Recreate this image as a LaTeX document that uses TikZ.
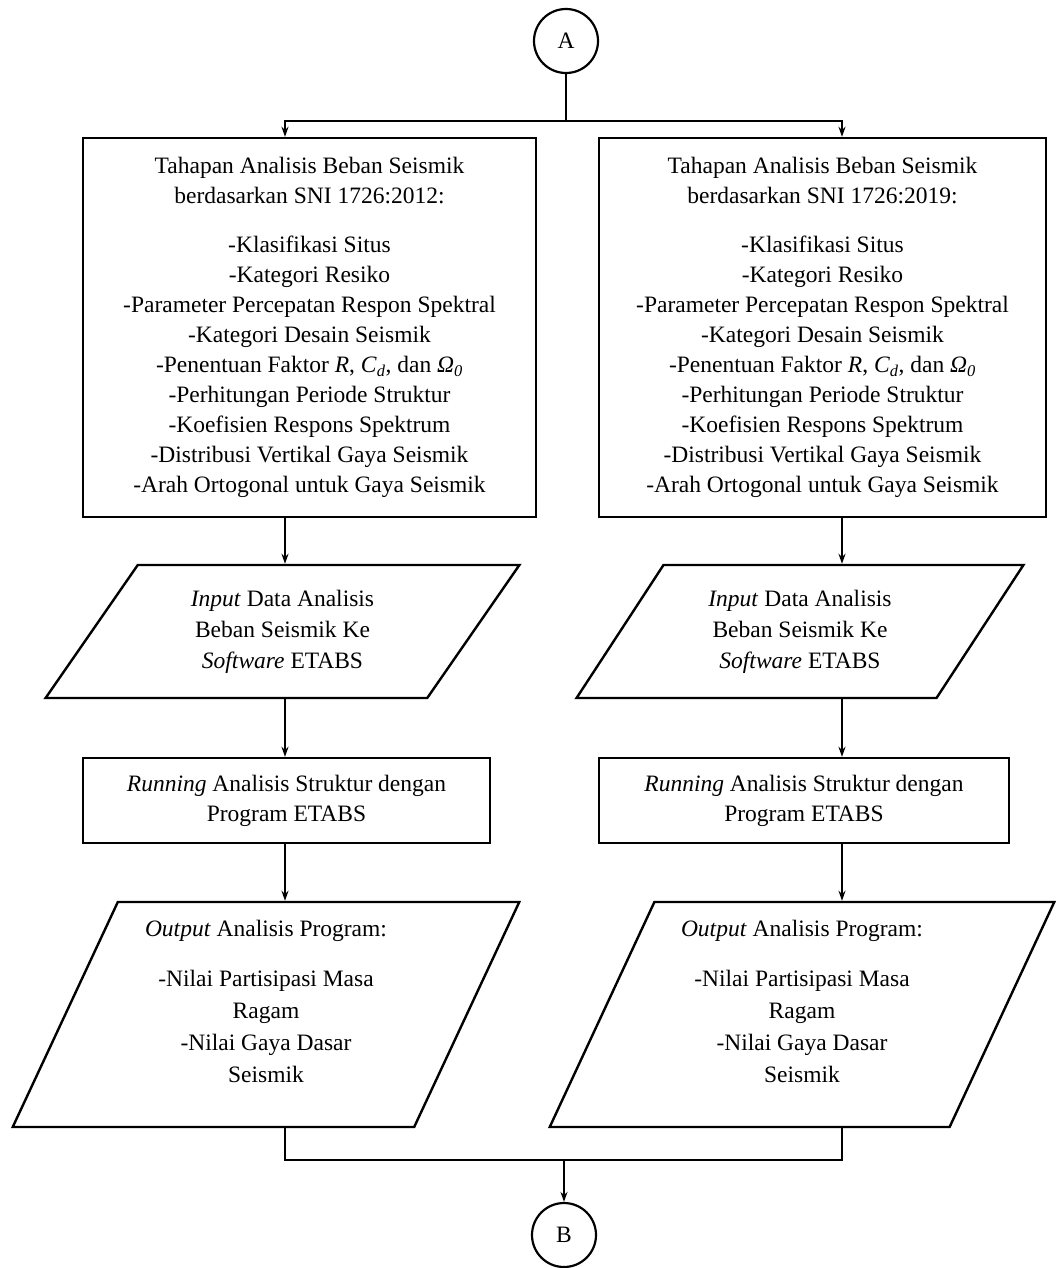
\documentclass[tikz,border=0pt]{standalone}
\usepackage{fontspec}
\setmainfont{Liberation Serif}
\usetikzlibrary{shapes.geometric,arrows.meta}

\begin{document}
\begin{tikzpicture}[x=1pt,y=-1pt,>={Stealth[length=10pt,width=7pt]},
  box/.style={draw,line width=2.4pt,align=center,inner sep=0pt},
  io/.style={box,trapezium,trapezium stretches=true},
  conn/.style={line width=2pt},
  every node/.append style={font=\fontsize{23.5}{30}\selectfont}]
  \useasboundingbox (0,0) rectangle (1056,1268);

  \node[circle,draw,line width=2.2pt,minimum size=64pt,inner sep=0pt] (A) at (566,41) {A};
  \coordinate (colL) at (285,0);
  \coordinate (colR) at (842,0);
  \coordinate (split) at (566,121);
  \coordinate (merge) at (564,1160);

  \node[box,minimum width=453pt,minimum height=379pt] (setL) at (309.5,327.5)
    {Tahapan Analisis Beban Seismik\\ berdasarkan SNI 1726:2012:\\[19pt]
     -Klasifikasi Situs\\ -Kategori Resiko\\ -Parameter Percepatan Respon Spektral\\
     -Kategori Desain Seismik\\
     -Penentuan Faktor \textit{R}, \textit{C}\textsubscript{\textit{d}}, dan \textit{Ω}\textsubscript{\textit{0}}\\
     -Perhitungan Periode Struktur\\ -Koefisien Respons Spektrum\\
     -Distribusi Vertikal Gaya Seismik\\ -Arah Ortogonal untuk Gaya Seismik};
  \node[box,minimum width=447pt,minimum height=379pt] (setR) at (822.5,327.5)
    {Tahapan Analisis Beban Seismik\\ berdasarkan SNI 1726:2019:\\[19pt]
     -Klasifikasi Situs\\ -Kategori Resiko\\ -Parameter Percepatan Respon Spektral\\
     -Kategori Desain Seismik\\
     -Penentuan Faktor \textit{R}, \textit{C}\textsubscript{\textit{d}}, dan \textit{Ω}\textsubscript{\textit{0}}\\
     -Perhitungan Periode Struktur\\ -Koefisien Respons Spektrum\\
     -Distribusi Vertikal Gaya Seismik\\ -Arah Ortogonal untuk Gaya Seismik};

  \node[io,trapezium left angle=55,trapezium right angle=125,minimum width=475pt,minimum height=133pt,
    font=\fontsize{23.5}{31}\selectfont] (inL) at (282.5,631.5)
    {\textit{Input} Data Analisis\\ Beban Seismik Ke\\ \textit{Software} ETABS};
  \node[io,trapezium left angle=55,trapezium right angle=125,minimum width=448pt,minimum height=133pt,
    font=\fontsize{23.5}{31}\selectfont] (inR) at (800,631.5)
    {\textit{Input} Data Analisis\\ Beban Seismik Ke\\ \textit{Software} ETABS};

  \node[box,minimum width=407pt,minimum height=85pt] (runL) at (286.5,800.5)
    {\textit{Running} Analisis Struktur dengan\\ Program ETABS};
  \node[box,minimum width=410pt,minimum height=85pt] (runR) at (804,800.5)
    {\textit{Running} Analisis Struktur dengan\\ Program ETABS};

  \node[io,trapezium left angle=65.5,trapezium right angle=114.5,minimum width=508pt,minimum height=225pt,
    font=\fontsize{23.5}{32}\selectfont] (outL) at (266,1014.5)
    {\textit{Output} Analisis Program:\\[18pt] -Nilai Partisipasi Masa\\ Ragam\\ -Nilai Gaya Dasar\\ Seismik\\[-6pt]\mbox{}};
  \node[io,trapezium left angle=65.5,trapezium right angle=114.5,minimum width=506pt,minimum height=225pt,
    font=\fontsize{23.5}{32}\selectfont] (outR) at (802,1014.5)
    {\textit{Output} Analisis Program:\\[18pt] -Nilai Partisipasi Masa\\ Ragam\\ -Nilai Gaya Dasar\\ Seismik\\[-6pt]\mbox{}};

  \node[circle,draw,line width=2.2pt,minimum size=64pt,inner sep=0pt] (B) at (564,1235) {B};

  \draw[conn] (A) -- (split);
  \draw[conn,->] (split) -| (setL.north -| colL);
  \draw[conn,->] (split) -| (setR.north -| colR);
  \draw[conn,->] (setL.south -| colL) -- (inL.north -| colL);
  \draw[conn,->] (setR.south -| colR) -- (inR.north -| colR);
  \draw[conn,->] (inL.south -| colL) -- (runL.north -| colL);
  \draw[conn,->] (inR.south -| colR) -- (runR.north -| colR);
  \draw[conn,->] (runL.south -| colL) -- (outL.north -| colL);
  \draw[conn,->] (runR.south -| colR) -- (outR.north -| colR);
  \draw[conn] (outL.south -| colL) |- (merge);
  \draw[conn] (outR.south -| colR) |- (merge);
  \draw[conn,->] (merge) -- (B);
\end{tikzpicture}
\end{document}
